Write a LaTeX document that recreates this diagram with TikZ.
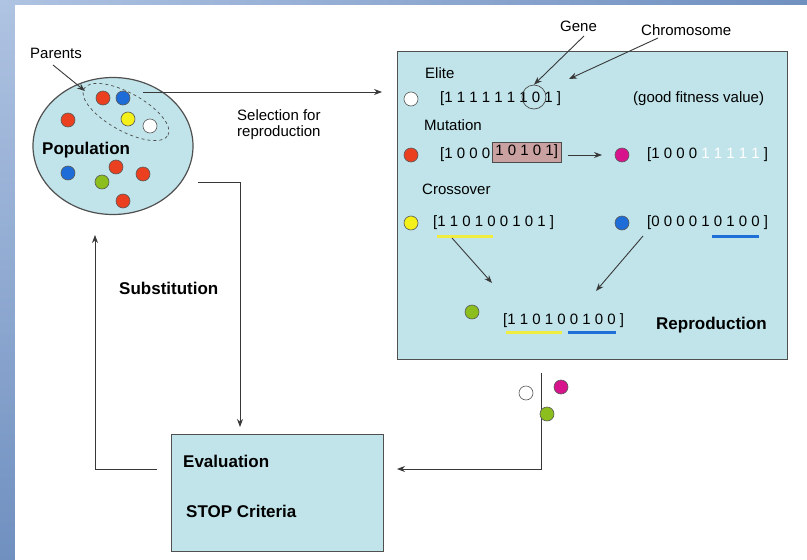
\documentclass[tikz,border=0pt]{standalone}
\usepackage{fontspec}
\setmainfont{Liberation Sans}
\usetikzlibrary{arrows.meta,shapes.geometric}
\definecolor{boxfill}{HTML}{C0E4EA}
\definecolor{boxline}{HTML}{505050}
\definecolor{cred}{HTML}{EA4020}
\definecolor{cblue}{HTML}{1E6CD8}
\definecolor{cyellow}{HTML}{F4F01A}
\definecolor{cgreen}{HTML}{8CBE1E}
\definecolor{cmag}{HTML}{D8148C}
\definecolor{pinkbox}{HTML}{C9A1A1}
\definecolor{uyellow}{HTML}{F0EC40}
\definecolor{ublue}{HTML}{1F6FD8}
\definecolor{stripA}{HTML}{AFC3E2}
\definecolor{stripB}{HTML}{7090C0}
\tikzset{
  lbl/.style={font=\fontsize{15}{17}\selectfont, inner sep=0pt, anchor=west},
  blbl/.style={font=\bfseries\fontsize{17}{20}\selectfont, inner sep=0pt, anchor=west},
  bits/.style={font=\fontsize{15}{17}\selectfont, inner sep=0pt, anchor=west},
  gdot/.style={circle, draw=black!65, line width=0.6pt, minimum size=14pt, inner sep=0pt},
  panel/.style={draw=boxline, line width=1.2pt, fill=boxfill, inner sep=0pt, anchor=north west},
  conn/.style={line width=0.9pt, draw=black!78},
  arr/.style={conn, -{Stealth[length=8pt,width=6pt]}},
  uline/.style={line width=3pt}
}
\begin{document}
\begin{tikzpicture}[x=1pt,y=-1pt]
\useasboundingbox (0,0) rectangle (807,560);
% background strips
\shade[top color=stripA, bottom color=stripB] (0,0) rectangle (15,560);
\shade[left color=stripA, right color=stripB] (0,0) rectangle (807,5);
\fill[white] (15,5) rectangle (807,560);

% population
\node[ellipse, draw=boxline, line width=1.2pt, fill=boxfill, minimum width=160pt, minimum height=137pt, inner sep=0pt] (pop) at (113,146) {};
\node[ellipse, draw=black!70, dashed, line width=0.7pt, minimum width=96pt, minimum height=38pt, inner sep=0pt, rotate=-29] (par) at (126,112) {};
\node[gdot, fill=cred] (p1) at (103,98) {};
\node[gdot, fill=cblue] (p2) at (123,98) {};
\node[gdot, fill=cyellow] (p3) at (128,119) {};
\node[gdot, fill=white] (p4) at (150,126) {};
\node[gdot, fill=cred] (p5) at (68,120) {};
\node[gdot, fill=cblue] (p6) at (68,173) {};
\node[gdot, fill=cred] (p7) at (116,167) {};
\node[gdot, fill=cgreen] (p8) at (102,182) {};
\node[gdot, fill=cred] (p9) at (143,174) {};
\node[gdot, fill=cred] (p10) at (123,201) {};
\node[blbl] (poplbl) at (42,150) {Population};
\node[lbl] (parlbl) at (30,53) {Parents};
\coordinate (parS) at (53,65);
\coordinate (parE) at (85,91);
\draw[arr] (parS) -- (parE);

% selection arrow
\coordinate (selS) at (143,92);
\coordinate (selE) at (382,92);
\draw[arr] (selS) -- (selE);
\node[lbl, anchor=north west, align=left, font=\fontsize{15}{16}\selectfont] (sel) at (237,109) {Selection for\\reproduction};

% reproduction panel
\node[panel, minimum width=390pt, minimum height=308pt] (repro) at (397,51) {};
\node[lbl] (gene) at (560,26) {Gene};
\node[lbl] (chrom) at (641,30) {Chromosome};
\node[lbl] (elite) at (425,73) {Elite};
\node[gdot, fill=white] (d1) at (411,99) {};
\node[bits] (b1) at (440,99) {[1 1 1 1 1 1 1 0 1 ]};
\node[circle, draw=black!70, line width=0.7pt, minimum size=24pt, inner sep=0pt] (genec) at (534,97) {};
\coordinate (geneS) at (584,36);
\coordinate (chromS) at (658,38);
\coordinate (chromE) at (569,79);
\draw[arr] (geneS) -- (genec.north);
\draw[arr] (chromS) -- (chromE);
\node[lbl] (good) at (633,99) {(good fitness value)};

\node[lbl] (mut) at (424,125) {Mutation};
\node[gdot, fill=cred] (d2) at (411,155) {};
\node[bits] (b2a) at (440,155) {[1 0 0 0};
\node[bits, draw=black!70, line width=0.8pt, fill=pinkbox, inner xsep=3pt, minimum height=20pt] (b2b) at (492,152) {1 0 1 0 1]};
\coordinate (mutS) at (568,155);
\coordinate (mutE) at (602,155);
\draw[arr] (mutS) -- (mutE);
\node[gdot, fill=cmag] (d3) at (622,155) {};
\node[bits] (b3) at (647,155) {[1 0 0 0 {\color{white}1 1 1 1 1} ]};

\node[lbl] (cross) at (422,189) {Crossover};
\node[gdot, fill=cyellow] (d4) at (411,223) {};
\node[bits] (b4) at (433,223) {[1 1 0 1 0 0 1 0 1 ]};
\node[gdot, fill=cblue] (d5) at (622,223) {};
\node[bits] (b5) at (647,223) {[0 0 0 0 1 0 1 0 0 ]};
\draw[uline, uyellow] (437,236) -- (493,236);
\draw[uline, ublue] (712,236) -- (759,236);
\coordinate (c1S) at (452,238);
\coordinate (c1E) at (492,283);
\coordinate (c2S) at (643,236);
\coordinate (c2E) at (596,291);
\draw[arr] (c1S) -- (c1E);
\draw[arr] (c2S) -- (c2E);
\node[gdot, fill=cgreen] (d6) at (472,312) {};
\node[bits] (b6) at (503,321) {[1 1 0 1 0 0 1 0 0 ]};
\draw[uline, uyellow] (506,332) -- (562,332);
\draw[uline, ublue] (568,332) -- (616,332);
\node[blbl] (replbl) at (656,325) {Reproduction};

% evaluation panel
\node[panel, minimum width=212pt, minimum height=117pt] (eval) at (171,434) {};
\node[blbl] (evlbl) at (183,461) {Evaluation};
\node[blbl] (stop) at (186,511) {STOP Criteria};

% population -> evaluation
\coordinate (pe1) at (198,182);
\coordinate (pe2) at (240,182);
\coordinate (pe3) at (240,427);
\draw[arr] (pe1) -- (pe2) -- (pe3);

% evaluation -> population (substitution)
\coordinate (sb1) at (157,469);
\coordinate (sb2) at (95,469);
\coordinate (sb3) at (95,235);
\draw[arr] (sb1) -- (sb2) -- (sb3);
\node[blbl] (subst) at (119,288) {Substitution};

% reproduction -> evaluation
\coordinate (re1) at (541,373);
\coordinate (re2) at (541,469);
\coordinate (re3) at (397,469);
\draw[arr] (re1) -- (re2) -- (re3);
\node[gdot, fill=white] (o1) at (526,393) {};
\node[gdot, fill=cmag] (o2) at (561,387) {};
\node[gdot, fill=cgreen] (o3) at (547,414) {};
\end{tikzpicture}
\end{document}
